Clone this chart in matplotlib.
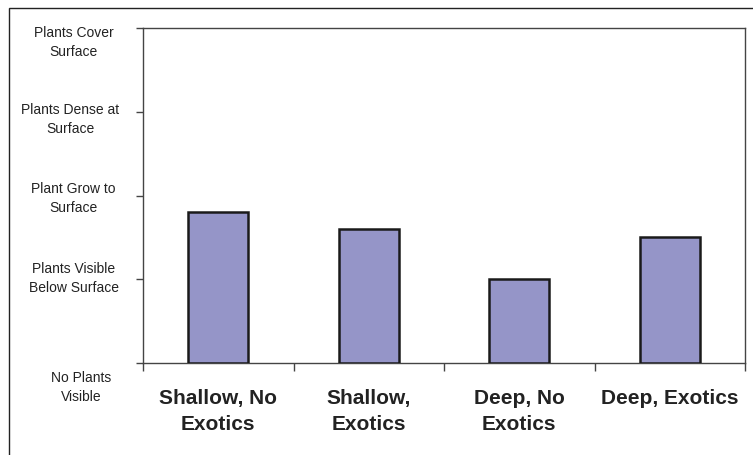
import matplotlib
matplotlib.use("Agg")
import matplotlib.pyplot as plt
import matplotlib.transforms as mtransforms
from matplotlib.patches import Rectangle

categories = ["Shallow, No\nExotics", "Shallow,\nExotics", "Deep, No\nExotics", "Deep, Exotics"]
values = [1.8, 1.6, 1.0, 1.5]
ytick_values = [0, 1, 2, 3, 4]
ytick_labels = ["No Plants\nVisible", "Plants Visible\nBelow Surface", "Plant Grow to\nSurface",
                "Plants Dense at\nSurface", "Plants Cover\nSurface"]

plt.rcParams['font.family'] = ['Liberation Sans', 'DejaVu Sans']

W, H, DPI = 753, 456, 100
fig = plt.figure(figsize=(W / DPI, H / DPI), dpi=DPI)
ax = fig.add_axes([143 / W, 1 - 364 / H, (745 - 143) / W, (364 - 29) / H])

x = list(range(len(categories)))
ax.bar(x, values, width=0.4, color='#9595C8', edgecolor='#1a1a1a', linewidth=1.8, zorder=3)

ax.set_xlim(-0.5, len(categories) - 0.5)
ax.set_ylim(ytick_values[0], ytick_values[-1])

spine_color = '#444444'
for s in ax.spines.values():
    s.set_color(spine_color)
    s.set_linewidth(1.0)

# x: boundary ticks (major, no labels), category labels on minor ticks
ax.set_xticks([i - 0.5 for i in range(len(categories) + 1)])
ax.set_xticklabels([])
ax.set_xticks(x, minor=True)
ax.set_xticklabels(categories, minor=True, fontsize=15, fontweight='bold', color='#222222',
                   linespacing=1.45)
ax.tick_params(axis='x', which='major', direction='out', length=6, width=1, color=spine_color)
ax.tick_params(axis='x', which='minor', length=0, pad=18)

# y ticks
ax.set_yticks(ytick_values)
ax.set_yticklabels(ytick_labels, fontsize=10, color='#222222', ha='center', linespacing=1.45)
ax.tick_params(axis='y', direction='out', length=5, width=1, color=spine_color, pad=45)

# per-label offsets (pixels) to match the reference placement
offsets = [(8, -20), (0, 6), (0, 2), (-3, -3), (0, -10)]
for lab, (dx, dy) in zip(ax.get_yticklabels(), offsets):
    lab.set_transform(lab.get_transform() +
                      mtransforms.ScaledTranslation(dx / DPI, dy / DPI, fig.dpi_scale_trans))

# outer frame (top and left visible)
fig.add_artist(Rectangle((9 / W, -0.5), 2, 1.5 - 9 / H, transform=fig.transFigure,
                         fill=False, edgecolor='#222222', linewidth=1.0))

fig.savefig("out.png", dpi=DPI)
